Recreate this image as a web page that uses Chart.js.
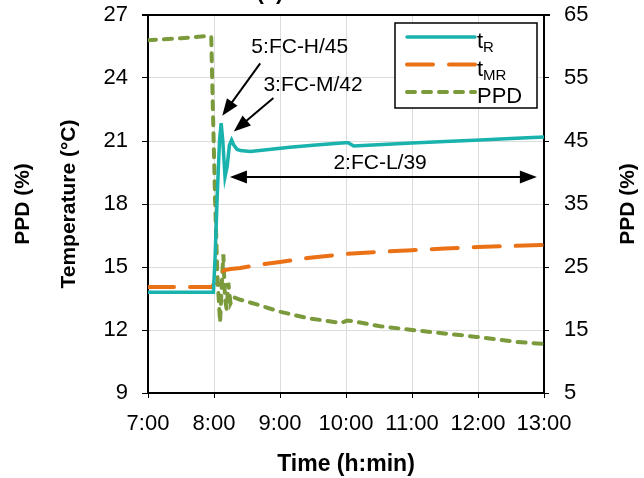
<!DOCTYPE html>
<html>
<head>
<meta charset="utf-8">
<script src="https://cdn.jsdelivr.net/npm/chart.js@4.4.1/dist/chart.umd.min.js"></script>
<style>
  html, body { margin: 0; padding: 0; background: #fff; }
</style>
</head>
<body>
<canvas id="chart" width="644" height="478"></canvas>
<script>
// minutes after 7:00
const tRTime = [0, 59.5, 61, 63, 65, 66.5, 68, 70, 72, 74, 76, 78, 81, 84, 93, 110, 129, 150, 179, 182, 187, 200, 240, 270, 302, 330, 360];
const tRVals = [13.8, 13.8, 15.5, 18.5, 21.0, 21.85, 21.0, 19.3, 19.8, 20.8, 21.05, 20.8, 20.6, 20.55, 20.5, 20.6, 20.7, 20.8, 20.92, 20.92, 20.76, 20.8, 20.9, 20.98, 21.05, 21.12, 21.19];

const tMRTime = [0, 58, 60, 62, 64, 66, 70, 75, 84, 100, 120, 145, 180, 210, 240, 270, 300, 330, 360];
const tMRVals = [14.05, 14.05, 14.2, 14.45, 14.65, 14.75, 14.85, 14.9, 14.95, 15.1, 15.24, 15.43, 15.62, 15.72, 15.8, 15.88, 15.95, 16.0, 16.05];

const ppdTime = [0, 30, 56, 57.5, 59, 61, 63, 65.5, 67, 68.5, 70, 71.5, 73, 75, 78, 84, 100, 120, 145, 175, 181, 186, 211, 240, 272, 299, 335, 360];
const ppdVals = [61.0, 61.3, 61.7, 61.5, 50, 35.6, 24, 16.2, 22, 27, 20, 18.3, 22.5, 19.2, 20.2, 19.8, 19.0, 17.9, 16.9, 16.1, 16.5, 16.4, 15.6, 15.0, 14.4, 13.9, 13.1, 12.8];

const hourLabels = ['7:00', '8:00', '9:00', '10:00', '11:00', '12:00', '13:00'];
const legendNames = [['t', 'R'], ['t', 'MR'], ['PPD', '']];

const FONT = "'Liberation Sans', Arial, sans-serif";
const TEAL = '#19b2ac';
const ORANGE = '#eb7116';
const GREEN = '#7b9a3c';

function pts(xs, ys) {
    return xs.map((x, i) => ({ x: x, y: ys[i] }));
}

// annotations in data units (minutes, °C)
const notes = [
    { text: '5:FC-H/45', tx: 138, ty: 25.48, from: [102, 24.7], to: [67.5, 22.2] },
    { text: '3:FC-M/42', tx: 150, ty: 23.67, from: [114, 23.05], to: [78, 21.45] }
];
const spanNote = { text: '2:FC-L/39', tx: 211, ty: 19.95, x1: 74.5, x2: 353.5, y: 19.29 };

function arrowHead(ctx, x1, y1, x2, y2, len, wid) {
    const a = Math.atan2(y2 - y1, x2 - x1);
    ctx.beginPath();
    ctx.moveTo(x2, y2);
    ctx.lineTo(x2 - len * Math.cos(a) + wid / 2 * Math.sin(a), y2 - len * Math.sin(a) - wid / 2 * Math.cos(a));
    ctx.lineTo(x2 - len * Math.cos(a) - wid / 2 * Math.sin(a), y2 - len * Math.sin(a) + wid / 2 * Math.cos(a));
    ctx.closePath();
    ctx.fill();
}

function arrow(ctx, x1, y1, x2, y2) {
    const a = Math.atan2(y2 - y1, x2 - x1);
    ctx.beginPath();
    ctx.moveTo(x1, y1);
    ctx.lineTo(x2 - 10 * Math.cos(a), y2 - 10 * Math.sin(a));
    ctx.stroke();
    arrowHead(ctx, x1, y1, x2, y2, 17, 13);
}

const extras = {
    id: 'extras',
    afterDatasetsDraw(chart) {
        const ctx = chart.ctx;
        const xs = chart.scales.x, ys = chart.scales.y;
        const area = chart.chartArea;
        ctx.save();
        ctx.strokeStyle = '#000';
        ctx.fillStyle = '#000';
        ctx.lineWidth = 2;
        ctx.font = '21px ' + FONT;
        ctx.textAlign = 'center';
        ctx.textBaseline = 'middle';
        notes.forEach(n => {
            ctx.fillText(n.text, xs.getPixelForValue(n.tx), ys.getPixelForValue(n.ty));
            arrow(ctx, xs.getPixelForValue(n.from[0]), ys.getPixelForValue(n.from[1]),
                xs.getPixelForValue(n.to[0]), ys.getPixelForValue(n.to[1]));
        });
        const ay = ys.getPixelForValue(spanNote.y);
        const ax1 = xs.getPixelForValue(spanNote.x1), ax2 = xs.getPixelForValue(spanNote.x2);
        ctx.beginPath();
        ctx.moveTo(ax1 + 10, ay);
        ctx.lineTo(ax2 - 10, ay);
        ctx.stroke();
        arrowHead(ctx, ax2, ay, ax1, ay, 17, 13);
        arrowHead(ctx, ax1, ay, ax2, ay, 17, 13);
        ctx.fillText(spanNote.text, xs.getPixelForValue(spanNote.tx), ys.getPixelForValue(spanNote.ty));

        // top frame line
        ctx.beginPath();
        ctx.moveTo(area.left - 6, area.top);
        ctx.lineTo(area.right + 6, area.top);
        ctx.stroke();

        // legend
        const lx = area.left + 247, ly = area.top + 8, lw = 142, lh = 85;
        ctx.fillStyle = '#fff';
        ctx.fillRect(lx, ly, lw, lh);
        ctx.lineWidth = 1.5;
        ctx.strokeRect(lx, ly, lw, lh);
        chart.data.datasets.forEach((ds, i) => {
            const y = ly + 14 + i * 27.5;
            ctx.save();
            ctx.strokeStyle = ds.borderColor;
            ctx.lineWidth = ds.borderWidth;
            ctx.lineCap = 'round';
            ctx.setLineDash(ds.borderDash || []);
            ctx.beginPath();
            ctx.moveTo(lx + 12, y);
            ctx.lineTo(lx + 80, y);
            ctx.stroke();
            ctx.restore();
            const nm = legendNames[i];
            ctx.fillStyle = '#000';
            ctx.textAlign = 'left';
            ctx.textBaseline = 'alphabetic';
            ctx.font = '22px ' + FONT;
            ctx.fillText(nm[0], lx + 82, y + 11);
            const w = ctx.measureText(nm[0]).width;
            ctx.font = '15px ' + FONT;
            ctx.fillText(nm[1], lx + 82 + w, y + 15);
        });

        // right axis title
        ctx.font = 'bold 21px ' + FONT;
        ctx.textAlign = 'center';
        ctx.textBaseline = 'middle';
        ctx.translate(628, (area.top + area.bottom) / 2);
        ctx.rotate(-Math.PI / 2);
        ctx.fillText('PPD (%)', 0, 0);
        ctx.restore();

        // cut-off panel label
        ctx.save();
        ctx.font = 'bold 22px ' + FONT;
        ctx.textAlign = 'center';
        ctx.textBaseline = 'alphabetic';
        ctx.fillStyle = '#000';
        ctx.fillText('(a)', 270, -1);
        ctx.restore();
    }
};

function fixVertical(width) {
    return s => {
        s.width = width;
        s.paddingTop = 0;
        s.paddingBottom = 0;
    };
}

new Chart(document.getElementById('chart'), {
    type: 'line',
    data: {
        datasets: [
            {
                label: 'tR',
                data: pts(tRTime, tRVals),
                borderColor: TEAL,
                borderWidth: 3.5,
                yAxisID: 'y'
            },
            {
                label: 'tMR',
                data: pts(tMRTime, tMRVals),
                borderColor: ORANGE,
                borderWidth: 4,
                borderDash: [26, 16],
                borderCapStyle: 'round',
                yAxisID: 'y'
            },
            {
                label: 'PPD',
                data: pts(ppdTime, ppdVals),
                borderColor: GREEN,
                borderWidth: 4,
                borderDash: [8, 8],
                borderCapStyle: 'round',
                yAxisID: 'y2'
            }
        ]
    },
    options: {
        responsive: false,
        animation: false,
        devicePixelRatio: 1,
        elements: { point: { radius: 0 }, line: { tension: 0, fill: false } },
        layout: { padding: { top: 15, left: 0, right: 0, bottom: 0 } },
        plugins: { legend: { display: false }, tooltip: { enabled: false } },
        scales: {
            x: {
                type: 'linear',
                min: 0,
                max: 360,
                afterFit: s => { s.height = 85; s.paddingLeft = 0; s.paddingRight = 0; },
                afterBuildTicks: s => { s.ticks = hourLabels.map((_, i) => ({ value: i * 60 })); },
                ticks: {
                    callback: (v) => hourLabels[Math.round(v / 60)],
                    font: { family: FONT, size: 22 },
                    color: '#000',
                    padding: 13,
                    maxRotation: 0,
                    autoSkip: false
                },
                grid: { color: '#dcdcdc', tickColor: '#000', tickLength: 5, lineWidth: 1 },
                border: { color: '#000', width: 2 },
                title: {
                    display: true,
                    text: 'Time (h:min)',
                    font: { family: FONT, size: 23, weight: 'bold' },
                    color: '#000',
                    padding: { top: 0, bottom: 0 }
                }
            },
            y: {
                position: 'left',
                min: 9,
                max: 27,
                afterFit: fixVertical(148),
                ticks: { stepSize: 3, font: { family: FONT, size: 22 }, color: '#000', padding: 14 },
                grid: { color: '#dcdcdc', tickColor: '#000', tickLength: 6, lineWidth: 1 },
                border: { color: '#000', width: 2 },
                title: {
                    display: true,
                    text: ['PPD (%)', 'Temperature (°C)'],
                    font: { family: FONT, size: 21, weight: 'bold', lineHeight: '46px' },
                    color: '#000',
                    padding: { top: 0, bottom: 0 }
                }
            },
            y2: {
                position: 'right',
                min: 5,
                max: 65,
                afterFit: fixVertical(100),
                ticks: { stepSize: 10, font: { family: FONT, size: 22 }, color: '#000', padding: 15 },
                grid: { drawOnChartArea: false, tickColor: '#000', tickLength: 5 },
                border: { color: '#000', width: 2 }
            }
        }
    },
    plugins: [extras]
});
</script>
</body>
</html>
